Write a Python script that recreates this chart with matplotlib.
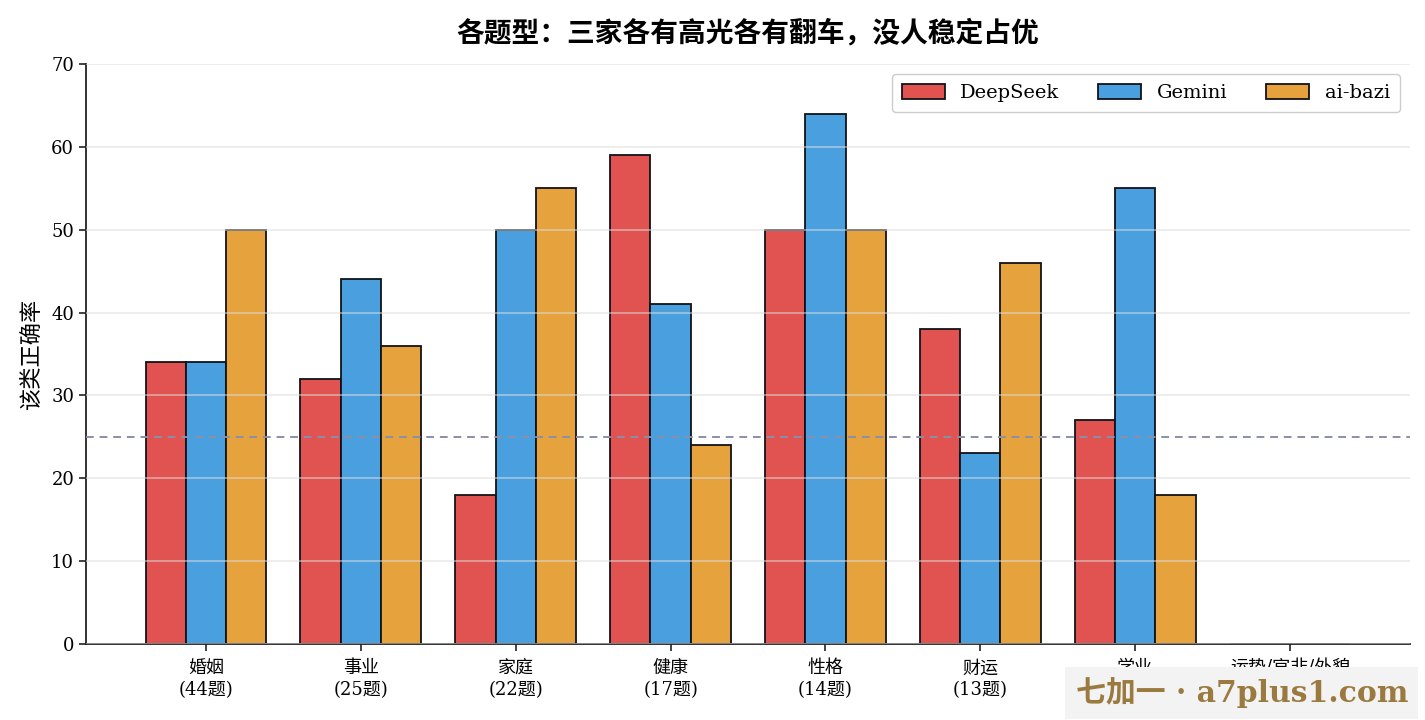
import matplotlib
matplotlib.use("Agg")
import matplotlib.pyplot as plt
import numpy as np

plt.rcParams['font.family'] = ['DejaVu Serif', 'Noto Sans CJK SC']
plt.rcParams['axes.unicode_minus'] = False

categories = ["婚姻\n(44题)", "事业\n(25题)", "家庭\n(22题)", "健康\n(17题)",
              "性格\n(14题)", "财运\n(13题)", "学业\n(9题)", "运势/官非/外貌\n(6题)"]
deepseek = [34, 32, 18, 59, 50, 38, 27, 0]
gemini = [34, 44, 50, 41, 64, 23, 55, 0]
aibazi = [50, 36, 55, 24, 50, 46, 18, 0]
series_names = ["DeepSeek", "Gemini", "ai-bazi"]
colors = ["#e05350", "#4a9fdf", "#e5a23d"]
baseline = 25
title = "各题型：三家各有高光各有翻车，没人稳定占优"
ylabel = "该类正确率"
watermark = "七加一 · a7plus1.com"

fig = plt.figure(figsize=(14.25, 7.2), dpi=100)
ax = fig.add_axes([86/1425, 76/720, (1410-86)/1425, (644-64)/720])

x = np.arange(len(categories))
w = 0.26
for i, (vals, name, c) in enumerate(zip([deepseek, gemini, aibazi], series_names, colors)):
    ax.bar(x + (i-1)*w, vals, width=w, color=c, edgecolor="#111318", linewidth=1.3,
           label=name, zorder=2)

ax.axhline(baseline, color="#8a8fa8", linestyle=(0, (4, 3)), linewidth=1.4, zorder=3)

ax.set_ylim(0, 70)
ax.set_xlim(-0.775, len(categories)-1+0.775)
ax.set_yticks(range(0, 71, 10))
ax.set_xticks(x)
ax.set_xticklabels(categories, fontsize=13, linespacing=1.25)
ax.tick_params(axis='y', labelsize=13, length=5, width=1.2, color="#222")
ax.tick_params(axis='x', length=5, width=1.2, color="#222", pad=6)
ax.yaxis.grid(True, color="#dddddd", linewidth=1.2, alpha=0.6, zorder=4)
ax.set_axisbelow(False)
for s in ["top", "right"]:
    ax.spines[s].set_visible(False)
for s in ["left", "bottom"]:
    ax.spines[s].set_linewidth(1.3)
    ax.spines[s].set_color("#222")
ax.set_ylabel(ylabel, fontsize=16, labelpad=6)
ax.set_title(title, fontsize=20, fontweight="bold", pad=16)

leg = ax.legend(loc="upper right", ncol=3, fontsize=14, frameon=True, fancybox=True,
                edgecolor="#cccccc", framealpha=1, columnspacing=2.0,
                handlelength=2.2, handleheight=0.85, borderpad=0.5,
                bbox_to_anchor=(0.9995, 0.9995))

fig.text(1408/1425, 1-693/720, watermark, ha="right", va="center", fontsize=21.5, fontweight="bold",
         color="#9b7a3f", family=['DejaVu Serif', 'Noto Sans CJK SC'],
         bbox=dict(boxstyle="square,pad=0.35", facecolor="#f3f3f3", edgecolor="none"))

fig.savefig("out.png", dpi=100)
